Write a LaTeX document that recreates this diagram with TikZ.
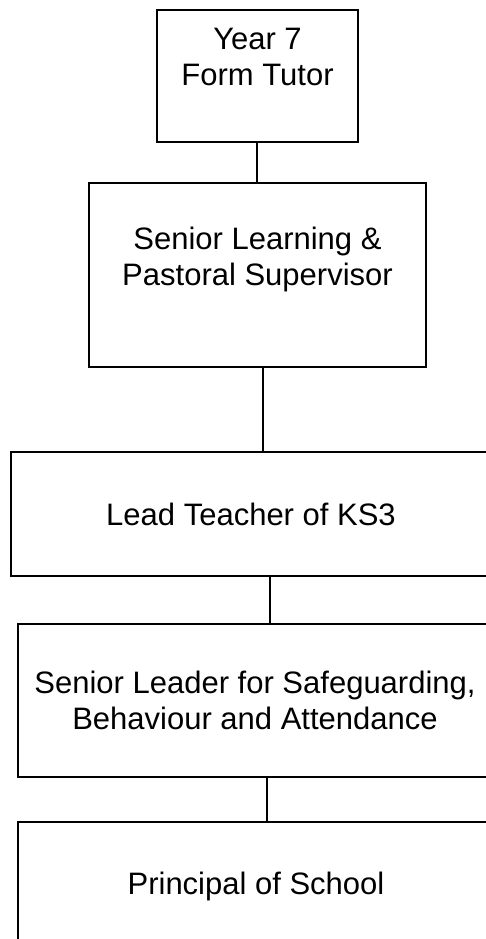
\documentclass[tikz,border=0pt]{standalone}
\usepackage{fontspec}
\setmainfont{Liberation Sans}
\begin{document}
\begin{tikzpicture}[x=1pt,y=-1pt,
  box/.style={draw=black,line width=1.5pt,fill=none,inner sep=0pt,align=center,
    font=\fontsize{31}{36}\selectfont},
  txt/.style={inner sep=0pt,align=center,font=\fontsize{31}{36}\selectfont},
  link/.style={draw=black,line width=1.5pt}]
\useasboundingbox (0,0) rectangle (486,939);
\clip (0,0) rectangle (486,939);
% boxes
\node[box,minimum width=201pt,minimum height=132pt] (b1) at (257.5,76) {};
\node[txt] (t1) at (257.5,57) {Year 7\\Form Tutor};
\node[box,minimum width=337pt,minimum height=184pt] (b2) at (257.5,275) {};
\node[txt] (t2) at (257.5,259) {Senior Learning \&\\Pastoral Supervisor};
\node[box,minimum width=480pt,minimum height=124pt] (b3) at (251,514) {Lead Teacher of KS3};
\node[box,minimum width=474pt,minimum height=153pt] (b4) at (255,700.5) {Senior Leader for Safeguarding,\\Behaviour and Attendance};
\node[box,minimum width=476pt,minimum height=128pt] (b5) at (256,886) {Principal of School};
% connectors
\draw[link] ([xshift=-0.5pt]b1.south) -- ([xshift=-0.5pt]b1.south |- b2.north);
\draw[link] ([xshift=5.5pt]b2.south) -- ([xshift=5.5pt]b2.south |- b3.north);
\draw[link] ([xshift=19pt]b3.south) -- ([xshift=19pt]b3.south |- b4.north);
\draw[link] ([xshift=12pt]b4.south) -- ([xshift=12pt]b4.south |- b5.north);
\end{tikzpicture}
\end{document}
